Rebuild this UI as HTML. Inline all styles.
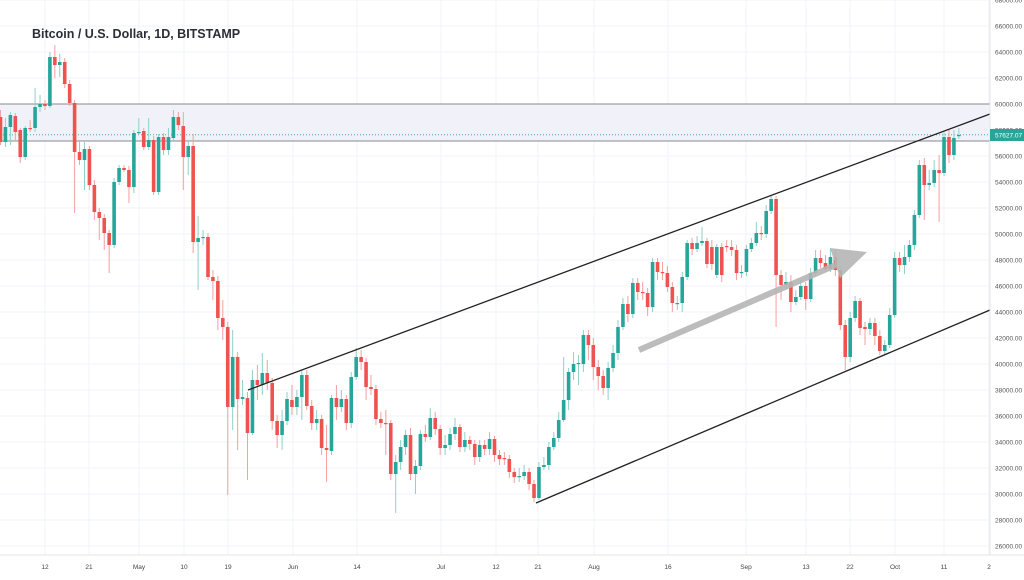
<!DOCTYPE html>
<html><head><meta charset="utf-8"><style>
body{margin:0;background:#fff;width:1024px;height:580px;overflow:hidden}
svg{display:block;font-family:"Liberation Sans",sans-serif}
</style></head><body>
<svg id="s" width="1024" height="580" xmlns="http://www.w3.org/2000/svg"></svg>
<script>
const D=[
[117,142,110,145],[142,127,118,147],[127,115,112,145],[116,132,113,140],[130,157,128,163],[157,128,126,160],[128,129,120,132],[128,107,88,132],[107,104,95,112],[104,106,100,110],
[106,57,52,108],[57,65,45,78],[65,62,54,77],[62,84,58,88],[84,103,80,106],[103,152,100,213],[152,160,140,165],[160,149,142,190],[149,185,146,190],[185,212,180,220],
[212,218,208,240],[218,233,214,250],[233,245,230,273],[245,182,178,248],[182,168,165,185],[168,170,165,172],[170,187,166,203],[187,133,130,193],[133,132,118,135],[131,147,128,150],
[147,140,118,150],[140,192,136,195],[192,137,134,195],[137,150,133,155],[150,137,128,155],[138,117,110,140],[117,125,112,130],[126,157,112,190],[157,146,140,175],[146,242,134,253],
[242,238,216,290],[238,237,230,245],[237,277,233,280],[277,281,270,300],[281,318,276,330],[318,327,300,340],[327,407,322,495],[407,357,330,430],[357,399,352,450],[399,397,380,405],
[398,433,392,480],[433,380,370,435],[380,385,365,400],[385,373,353,395],[373,383,360,390],[383,421,378,430],[421,435,415,448],[435,421,410,450],[421,399,392,425],[400,407,385,415],
[407,397,390,415],[397,375,370,420],[375,406,370,410],[406,423,400,430],[423,419,410,430],[419,448,415,455],[448,450,425,482],[451,398,395,455],[398,407,385,420],[407,399,390,412],
[399,423,395,430],[423,377,372,428],[377,357,348,380],[357,362,350,370],[362,387,358,400],[387,389,375,395],[389,419,385,425],[419,423,412,428],[423,424,410,455],[423,474,420,480],
[474,462,455,513],[462,447,440,470],[447,435,430,455],[435,474,428,480],[474,466,460,494],[466,434,430,470],[434,437,425,442],[437,418,408,440],[418,429,412,435],[429,448,425,455],
[448,445,435,455],[445,434,428,450],[434,427,418,440],[427,447,424,452],[447,440,432,452],[440,444,436,450],[444,457,440,465],[457,445,440,462],[445,449,440,455],[449,439,432,455],
[439,455,436,462],[455,459,450,465],[458,459,452,465],[459,472,455,478],[472,477,468,483],[477,476,468,482],[476,472,465,480],[472,484,468,490],[484,498,480,502],[498,467,462,500],
[467,465,457,470],[465,447,442,470],[447,438,432,450],[438,420,412,442],[420,400,357,422],[400,372,368,410],[372,364,352,380],[364,363,355,385],[364,335,330,372],[335,345,330,360],
[345,367,338,380],[367,376,360,390],[376,388,370,395],[388,368,362,400],[368,353,345,372],[353,327,320,360],[327,304,298,330],[304,314,296,322],[314,283,278,318],[283,292,278,300],
[292,293,282,300],[293,307,288,316],[307,262,258,312],[262,272,258,280],[272,273,262,280],[273,287,266,292],[287,303,282,312],[304,303,296,310],[303,277,272,312],[277,243,240,280],
[243,249,238,255],[249,243,236,252],[243,241,227,246],[241,264,238,268],[247,264,240,270],[275,247,244,278],[247,275,243,282],[246,247,240,252],[247,250,240,256],[250,273,245,280],
[273,272,265,278],[272,249,245,276],[249,243,238,252],[243,233,222,246],[233,234,226,240],[234,211,205,238],[211,199,196,214],[199,275,196,327],[275,285,270,300],[285,282,272,290],
[282,302,275,312],[302,297,290,305],[297,286,280,300],[286,299,282,310],[299,273,268,302],[273,258,250,276],[258,263,250,268],[263,269,255,272],[269,257,248,272],[257,270,250,276],
[270,325,265,330],[325,357,320,370],[357,318,312,362],[318,301,296,322],[301,328,298,335],[327,329,322,345],[329,323,318,335],[323,336,318,345],[336,351,330,355],[351,345,340,355],
[345,315,308,348],[315,258,252,318],[258,265,252,272],[265,257,245,274],[257,245,240,262],[245,215,210,250],[215,165,160,218],[165,185,158,220],[185,183,170,190],[183,170,160,187],
[170,173,155,222],[173,137,132,176],[137,155,130,163],[155,138,130,160],[136,135,128,139]];
const s=document.getElementById('s');let h='';
// grid
const tx=[[45,'12'],[89,'21'],[139,'May'],[184,'10'],[228,'19'],[293,'Jun'],[357,'14'],[441,'Jul'],[496,'12'],[538,'21'],[594,'Aug'],[668,'16'],[746,'Sep'],[806,'13'],[850,'22'],[895,'Oct'],[944,'11'],[989,'2']];
for(let y=0;y<=546;y+=26)h+=`<line x1="0" x2="990" y1="${y}" y2="${y}" stroke="#f0f3fa"/>`;
for(const [x] of tx)h+=`<line x1="${x}" x2="${x}" y1="0" y2="555" stroke="#f0f3fa"/>`;
// band
h+=`<rect x="0" y="104" width="990" height="37" fill="#f1f2f9"/>`;
h+=`<line x1="0" x2="990" y1="104" y2="104" stroke="#8a8a8a"/><line x1="0" x2="990" y1="141" y2="141" stroke="#8a8a8a"/>`;
h+=`<line x1="0" x2="990" y1="134.8" y2="134.8" stroke="#26a69a" stroke-dasharray="1 2" stroke-width="0.8"/>`;
// candles
D.forEach((d,i)=>{const x=0.5+i*4.94;const [o,c,hi,lo]=d;const g=c<o;const col=g?'#26a69a':'#ef5350';const wc=g?'#8fd0c8':'#f4a09e';
const t=Math.min(o,c),b=Math.max(o,c);
h+=`<line x1="${x}" x2="${x}" y1="${Math.min(hi,t)}" y2="${Math.max(lo,b)}" stroke="${wc}" stroke-width="1"/>`;
h+=`<rect x="${x-1.8}" y="${t}" width="3.6" height="${Math.max(b-t,1.2)}" fill="${col}"/>`;});
// trend lines
h+=`<line x1="248" y1="390" x2="990" y2="114" stroke="#222" stroke-width="1.3"/>`;
h+=`<line x1="536" y1="503" x2="990" y2="310" stroke="#222" stroke-width="1.3"/>`;
// arrow
h+=`<line x1="639" y1="350" x2="836" y2="265" stroke="#b5b5b5" stroke-width="6" opacity="0.9"/>`;
h+=`<polygon points="830,248 867,252 840,278" fill="#b5b5b5" opacity="0.9"/>`;
// axes
h+=`<rect x="990" y="0" width="34" height="580" fill="#fff"/><rect x="0" y="555" width="1024" height="25" fill="#fff"/>`;
h+=`<line x1="990" x2="990" y1="0" y2="555" stroke="#e6e6e6"/><line x1="0" x2="1024" y1="555" y2="555" stroke="#e6e6e6"/>`;
for(let p=68000,y=0;p>=26000;p-=2000,y+=26)h+=`<text x="995" y="${y+2.5}" font-size="6.5" fill="#555">${p}.00</text>`;
h+=`<rect x="990" y="129" width="34" height="12" fill="#26a69a"/><text x="995" y="137.5" font-size="6.5" fill="#fff">57627.07</text>`;
for(const [x,t] of tx)h+=`<text x="${x}" y="569" font-size="6.5" fill="#444" text-anchor="middle">${t}</text>`;
h+=`<text x="32" y="38" font-size="12.5" font-weight="bold" fill="#2a2e39">Bitcoin / U.S. Dollar, 1D, BITSTAMP</text>`;
s.innerHTML=h;
</script>
</body></html>
